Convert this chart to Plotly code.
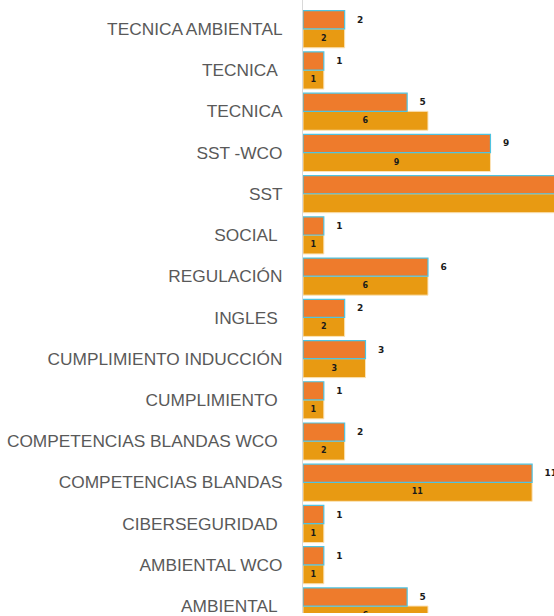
import plotly.graph_objects as go

# categories bottom -> top (plotly draws the first category at the bottom)
categorias = [
    "AMBIENTAL\u00a0",
    "AMBIENTAL WCO",
    "CIBERSEGURIDAD\u00a0",
    "COMPETENCIAS BLANDAS",
    "COMPETENCIAS BLANDAS WCO\u00a0",
    "CUMPLIMIENTO\u00a0",
    "CUMPLIMIENTO INDUCCIÓN",
    "INGLES\u00a0",
    "REGULACIÓN",
    "SOCIAL\u00a0",
    "SST",
    "SST -WCO",
    "TECNICA",
    "TECNICA\u00a0",
    "TECNICA AMBIENTAL",
]
serie_sup = [5, 1, 1, 11, 2, 1, 3, 2, 6, 1, 26, 9, 5, 1, 2]
serie_inf = [6, 1, 1, 11, 2, 1, 3, 2, 6, 1, 26, 9, 6, 1, 2]

color_sup = "#EE7B2C"
color_inf = "#E89A12"
pad = "\u00a0\u00a0\u00a0"

fig = go.Figure()

# lower bar of each pair, label centred inside
fig.add_trace(go.Bar(
    y=categorias, x=serie_inf, orientation="h",
    offset=-0.46, width=0.46,
    marker=dict(color=color_inf, line=dict(color="#FBE3B8", width=1)),
    text=[str(v) for v in serie_inf],
    textposition="inside", insidetextanchor="middle",
    textfont=dict(family="DejaVu Sans", size=8, color="#1a1a1a", weight="bold"),
    cliponaxis=True, showlegend=False,
))

# upper bar of each pair, label outside
fig.add_trace(go.Bar(
    y=categorias, x=serie_sup, orientation="h",
    offset=0, width=0.44,
    marker=dict(color=color_sup, line=dict(color="#4FC3E0", width=1.2)),
    text=[pad + str(v) for v in serie_sup],
    textposition="outside",
    textfont=dict(family="DejaVu Sans", size=9, color="#1a1a1a", weight="bold"),
    cliponaxis=True, showlegend=False,
))

fig.update_layout(
    width=554, height=616,
    margin=dict(l=303, r=0, t=0, b=0),
    barmode="overlay",
    plot_bgcolor="white", paper_bgcolor="white",
    font=dict(family="Liberation Sans"),
    xaxis=dict(range=[0, 12.05], showgrid=False, zeroline=False,
               showticklabels=False, showline=False),
    yaxis=dict(range=[-0.169, 14.70], showgrid=False, zeroline=False,
               showline=True, linecolor="#D9D9D9", linewidth=1,
               ticks="", ticklabelstandoff=16,
               tickfont=dict(family="Liberation Sans", size=17.3, color="#595959")),
)

# drop the default body margin so the figure fills the window exactly
fig.write_html("out.html",
               config={"displayModeBar": False},
               post_script="document.body.style.margin='0';document.body.style.overflow='hidden';")
